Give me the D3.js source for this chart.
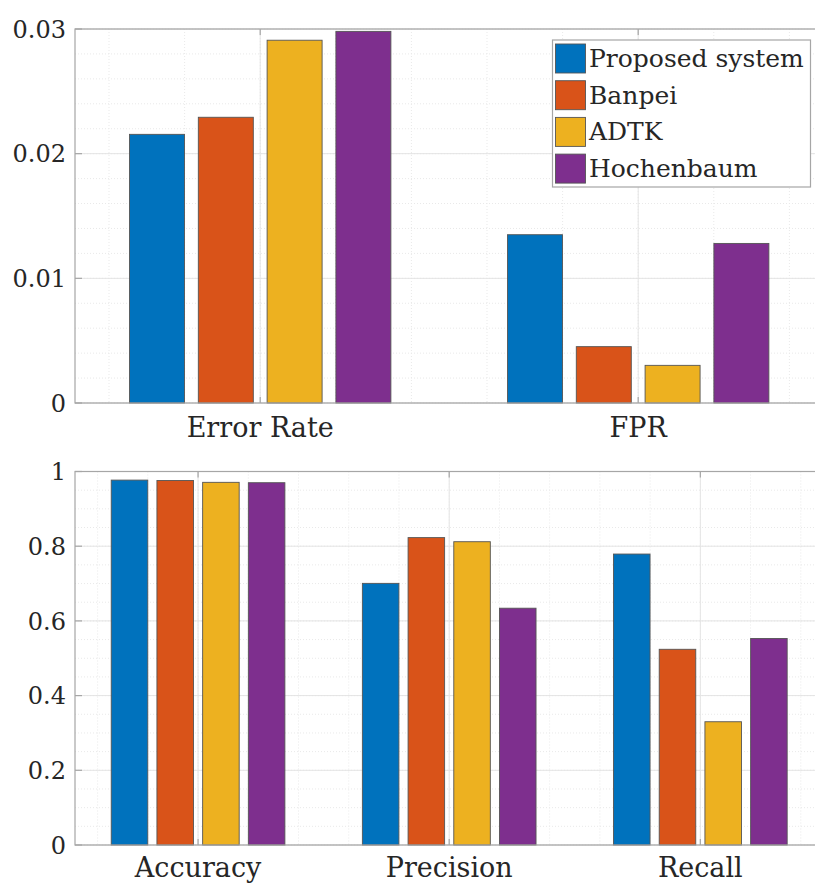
<!DOCTYPE html>
<html>
<head>
<meta charset="utf-8">
<script src="https://cdn.jsdelivr.net/npm/d3@7"></script>
<style>
  body { margin: 0; background: #fff; }
  svg { display: block; }
  text { font-family: "DejaVu Serif"; fill: #262626; }
</style>
</head>
<body>
<div id="chart"></div>
<script>
// data
const seriesNames = ["Proposed system", "Banpei", "ADTK", "Hochenbaum"];
const seriesColors = ["#0072BD", "#D95319", "#EDB120", "#7E2F8E"];

const topCategories = ["Error Rate", "FPR"];
const errorRate = [0.02155, 0.02292, 0.0291, 0.02981];
const fpr = [0.0135, 0.00452, 0.00302, 0.0128];
const topTicks = [0, 0.01, 0.02, 0.03];
const topTickLabels = ["0", "0.01", "0.02", "0.03"];

const bottomCategories = ["Accuracy", "Precision", "Recall"];
const accuracy = [0.977, 0.976, 0.971, 0.970];
const precision = [0.7005, 0.823, 0.812, 0.634];
const recall = [0.779, 0.524, 0.33, 0.553];
const bottomTicks = [0, 0.2, 0.4, 0.6, 0.8, 1];
const bottomTickLabels = ["0", "0.2", "0.4", "0.6", "0.8", "1"];

const W = 815, H = 884;
const svg = d3.select("#chart").append("svg").attr("width", W).attr("height", H);

// matlab grouped bar geometry (4 series)
const slot = 0.182, barW = 0.1455;

function drawPanel(opts) {
  const n = opts.categories.length;
  const x = d3.scaleLinear().domain([0.51, n + 0.49]).range([75, 823.4]);
  const y = d3.scaleLinear().domain([0, opts.ymax]).range([opts.bottom, opts.top]);
  const g = svg.append("g");

  // minor grid
  const xMinor = d3.range(0.6, n + 0.45, 0.2);
  g.append("g").selectAll("line").data(xMinor).join("line")
    .attr("x1", d => x(d)).attr("x2", d => x(d))
    .attr("y1", opts.top).attr("y2", opts.bottom)
    .attr("stroke", "#e9e9e9").attr("stroke-dasharray", "1,2");
  const yMinor = d3.range(0, opts.ymax + 1e-9, opts.minorStep);
  g.append("g").selectAll("line").data(yMinor).join("line")
    .attr("x1", x.range()[0]).attr("x2", x.range()[1])
    .attr("y1", d => y(d)).attr("y2", d => y(d))
    .attr("stroke", "#e9e9e9").attr("stroke-dasharray", "1,2");

  // major grid
  const cats = d3.range(1, n + 1);
  g.append("g").selectAll("line").data(cats).join("line")
    .attr("x1", d => x(d)).attr("x2", d => x(d))
    .attr("y1", opts.top).attr("y2", opts.bottom)
    .attr("stroke", "#e4e4e4");
  g.append("g").selectAll("line").data(opts.ticks).join("line")
    .attr("x1", x.range()[0]).attr("x2", x.range()[1])
    .attr("y1", d => y(d)).attr("y2", d => y(d))
    .attr("stroke", "#e4e4e4");

  // bars
  opts.values.forEach((vals, ci) => {
    g.append("g").selectAll("rect").data(vals).join("rect")
      .attr("x", (d, i) => x(ci + 1 + (i - 1.5) * slot - barW / 2))
      .attr("width", x(barW) - x(0))
      .attr("y", d => y(d))
      .attr("height", d => y(0) - y(d))
      .attr("fill", (d, i) => seriesColors[i])
      .attr("stroke", "#555").attr("stroke-width", 0.9);
  });

  // axes box (right side falls outside the picture)
  g.append("rect")
    .attr("x", x.range()[0]).attr("y", opts.top)
    .attr("width", x.range()[1] - x.range()[0]).attr("height", opts.bottom - opts.top)
    .attr("fill", "none").attr("stroke", "#a6a6a6").attr("stroke-width", 1.2);

  // ticks
  g.append("g").selectAll("line").data(opts.ticks).join("line")
    .attr("x1", x.range()[0]).attr("x2", x.range()[0] + 7)
    .attr("y1", d => y(d)).attr("y2", d => y(d))
    .attr("stroke", "#a6a6a6").attr("stroke-width", 1.2);
  cats.forEach(c => {
    g.append("line").attr("x1", x(c)).attr("x2", x(c))
      .attr("y1", opts.bottom).attr("y2", opts.bottom - 6)
      .attr("stroke", "#a6a6a6").attr("stroke-width", 1.2);
    g.append("line").attr("x1", x(c)).attr("x2", x(c))
      .attr("y1", opts.top).attr("y2", opts.top + 6)
      .attr("stroke", "#a6a6a6").attr("stroke-width", 1.2);
  });

  // tick labels
  g.append("g").selectAll("text").data(opts.ticks).join("text")
    .attr("x", 66).attr("y", d => y(d))
    .attr("dy", "0.36em")
    .attr("text-anchor", "end")
    .attr("font-size", 24)
    .text((d, i) => opts.tickLabels[i]);

  g.append("g").selectAll("text").data(opts.categories).join("text")
    .attr("x", (d, i) => x(i + 1)).attr("y", opts.bottom + opts.catOffset)
    .attr("text-anchor", "middle")
    .attr("font-size", 27)
    .text(d => d);
  return g;
}

drawPanel({
  categories: topCategories, values: [errorRate, fpr],
  ymax: 0.03, top: 29, bottom: 403, minorStep: 0.002,
  ticks: topTicks, tickLabels: topTickLabels, catOffset: 34
});

drawPanel({
  categories: bottomCategories, values: [accuracy, precision, recall],
  ymax: 1, top: 471.5, bottom: 845, minorStep: 0.05,
  ticks: bottomTicks, tickLabels: bottomTickLabels, catOffset: 32
});

// legend
const lg = svg.append("g");
lg.append("rect").attr("x", 552.5).attr("y", 40).attr("width", 258).attr("height", 147)
  .attr("fill", "#fff").attr("stroke", "#a6a6a6").attr("stroke-width", 1.2);
const rows = lg.selectAll("g.row").data(seriesNames).join("g").attr("class", "row")
  .attr("transform", (d, i) => `translate(0, ${44 + i * 36.7})`);
rows.append("rect").attr("x", 555.5).attr("y", 0).attr("width", 30).attr("height", 29)
  .attr("fill", (d, i) => seriesColors[i]).attr("stroke", "#555").attr("stroke-width", 0.9);
rows.append("text").attr("x", 589).attr("y", 23).attr("font-size", 25).text(d => d);
</script>
</body>
</html>
